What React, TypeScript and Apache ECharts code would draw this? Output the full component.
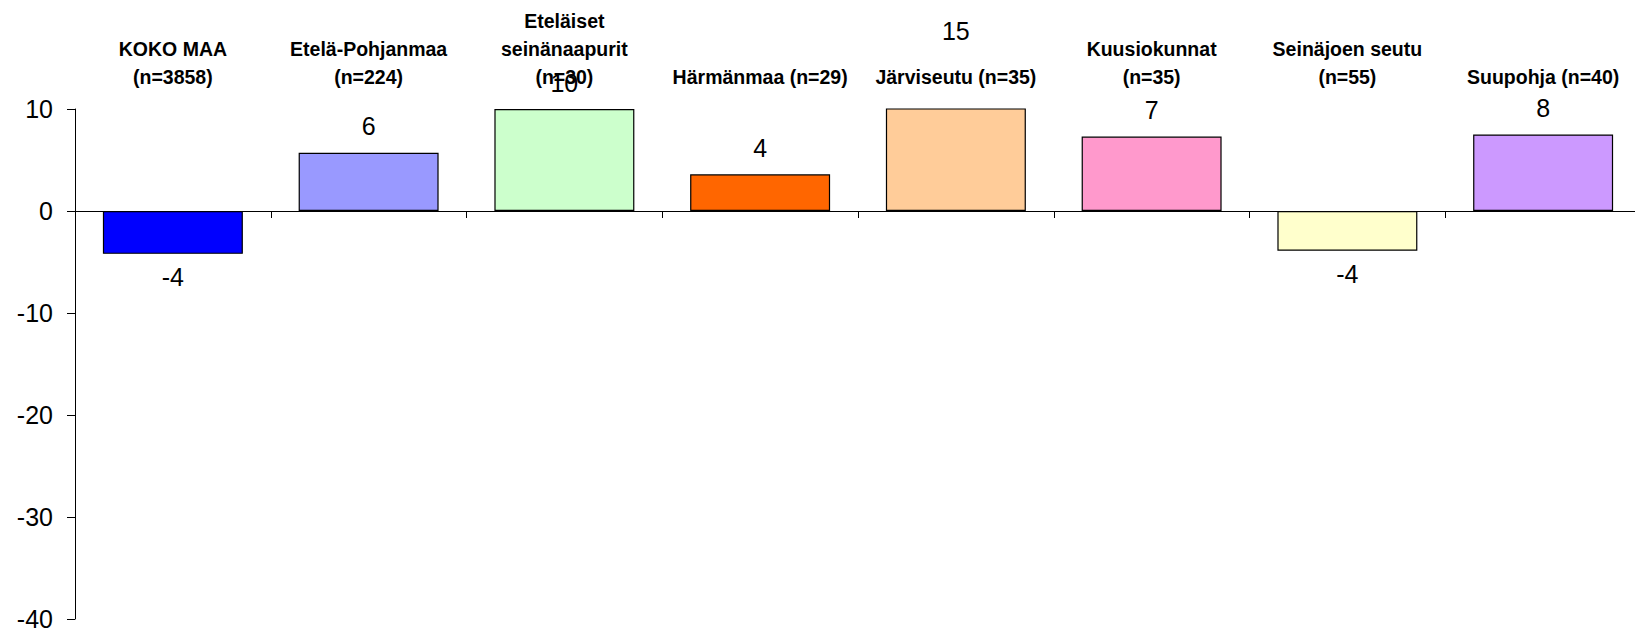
import React, { useEffect, useRef } from "react";
import * as echarts from "echarts";

const categories = [
  "KOKO MAA\n(n=3858)",
  "Etelä-Pohjanmaa\n(n=224)",
  "Eteläiset\nseinänaapurit\n(n=30)",
  "Härmänmaa (n=29)",
  "Järviseutu (n=35)",
  "Kuusiokunnat\n(n=35)",
  "Seinäjoen seutu\n(n=55)",
  "Suupohja (n=40)",
];
const values = [-4.2, 5.7, 10.0, 3.6, 15, 7.3, -3.9, 7.5];
const barColors = [
  "#0000FF",
  "#9999FF",
  "#CCFFCC",
  "#FF6600",
  "#FFCC99",
  "#FF99CC",
  "#FFFFCC",
  "#CC99FF",
];
const Y_MIN = -40;
const Y_MAX = 10;
const Y_STEP = 10;

const FONT = "'Liberation Sans', Arial, sans-serif";

export default function App() {
  const ref = useRef<HTMLDivElement>(null);

  useEffect(() => {
    if (!ref.current) return;
    const chart = echarts.init(ref.current, undefined, { renderer: "svg" });
    const labelFmt = (p: any) => String(Math.round(p.value));
    const barData = values.map((v, i) => ({
      value: v,
      itemStyle: { color: barColors[i] },
      label: {
        show: v <= Y_MAX,
        position: v < 0 ? "bottom" : "top",
        distance: v < 0 ? 11 : 14,
      },
    }));
    const overflowData = values
      .map((v, i) => (v > Y_MAX ? [i, v] : null))
      .filter((d) => d !== null);
    chart.setOption({
      animation: false,
      textStyle: { fontFamily: FONT },
      grid: { left: 75, right: 4, top: 109, bottom: 14, containLabel: false },
      xAxis: [
        {
          type: "category",
          data: categories,
          position: "bottom",
          boundaryGap: true,
          axisLine: { show: true, onZero: true, lineStyle: { color: "#000", width: 1 } },
          axisTick: { show: true, length: 7, inside: false, lineStyle: { color: "#000" } },
          axisLabel: { show: false },
          splitLine: { show: false },
        },
        {
          type: "category",
          data: categories,
          position: "top",
          boundaryGap: true,
          axisLine: { show: false },
          axisTick: { show: false },
          axisLabel: {
            show: true,
            interval: 0,
            margin: 18,
            fontFamily: FONT,
            fontWeight: "bold",
            fontSize: 19.5,
            lineHeight: 28,
            color: "#000",
          },
          splitLine: { show: false },
        },
      ],
      yAxis: {
        type: "value",
        min: Y_MIN,
        max: Y_MAX,
        interval: Y_STEP,
        axisLine: { show: true, lineStyle: { color: "#000", width: 1 } },
        axisTick: { show: true, length: 8, inside: false, lineStyle: { color: "#000" } },
        axisLabel: {
          show: true,
          margin: 22,
          fontFamily: FONT,
          fontSize: 25,
          color: "#000",
        },
        splitLine: { show: false },
      },
      series: [
        {
          type: "bar",
          xAxisIndex: 0,
          data: barData,
          barWidth: "71.5%",
          clip: true,
          itemStyle: { borderColor: "#000", borderWidth: 1.2 },
          label: {
            show: true,
            fontFamily: FONT,
            fontSize: 25,
            color: "#000",
            formatter: labelFmt,
          },
        },
        {
          type: "custom",
          xAxisIndex: 0,
          data: overflowData,
          clip: false,
          silent: true,
          encode: { x: 0, y: 1 },
          renderItem: (_params: any, api: any) => {
            const v = api.value(1);
            const pt = api.coord([api.value(0), v]);
            return {
              type: "text",
              x: pt[0],
              y: pt[1] - 15,
              style: {
                text: String(Math.round(v)),
                fontSize: 25,
                fontFamily: FONT,
                fill: "#000",
                align: "center",
                verticalAlign: "bottom",
              },
            };
          },
        },
      ],
    });
    return () => chart.dispose();
  }, []);

  return (
    <div
      style={{
        position: "absolute",
        left: 0,
        top: 0,
        width: 1635,
        height: 633,
        overflow: "hidden",
        background: "#fff",
      }}
    >
      <div ref={ref} style={{ width: 1645, height: 633 }} />
    </div>
  );
}
